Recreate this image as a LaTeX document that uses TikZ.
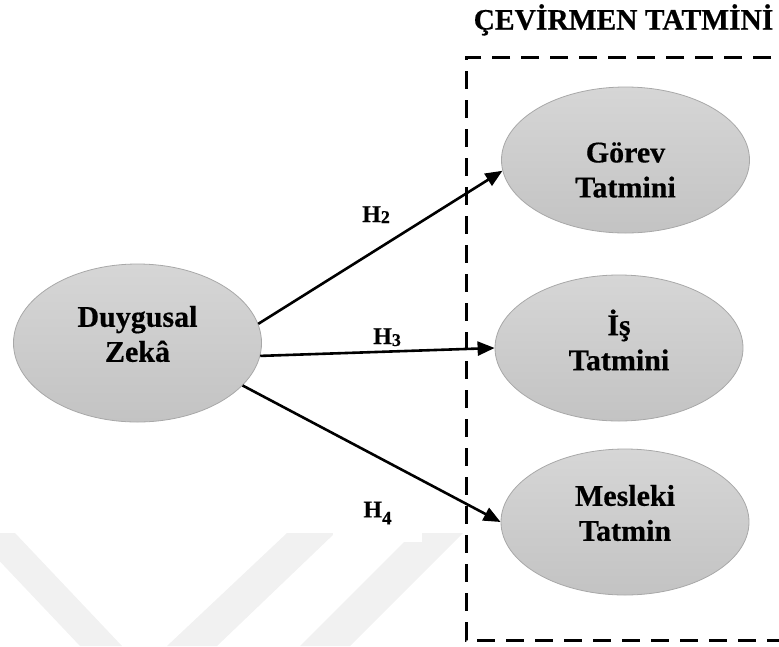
\documentclass[tikz,border=0pt]{standalone}
\usepackage{fontspec}
\setmainfont{Liberation Serif}[BoldFeatures={FakeBold=0.5}]
\usetikzlibrary{shapes.geometric,arrows.meta}

\definecolor{ovaltop}{HTML}{D6D6D6}
\definecolor{ovalbot}{HTML}{C3C3C3}
\definecolor{ovalline}{HTML}{A8A8A8}
\definecolor{markgray}{HTML}{F1F1F1}

\begin{document}
\begin{tikzpicture}[x=1pt,y=-1pt,
  concept/.style={ellipse, draw=ovalline, line width=0.8pt,
    top color=ovaltop, bottom color=ovalbot,
    minimum width=248pt, minimum height=146pt, inner sep=0pt},
  ctext/.style={align=center, inner sep=0pt,
    font=\fontsize{30}{35}\selectfont\bfseries},
  link/.style={-{Triangle[length=17pt,width=14pt]}, line width=2.6pt},
  hyp/.style={font=\fontsize{24}{24}\selectfont\bfseries, inner sep=0pt},
  frame/.style={line width=3pt, dash pattern=on 18pt off 11pt},
  heading/.style={font=\fontsize{29.5}{29.5}\selectfont\bfseries, inner sep=0pt},
  band/.style={fill=markgray, draw=none},
]
\useasboundingbox (0,0) rectangle (779,646);

% faint background mark along the bottom edge
\fill[band] (-27,533) -- (15,533) -- (122,646) -- (80,646) -- cycle;
\fill[band] (287,533) -- (335,533) -- (217,646) -- (167,646) -- cycle;
\fill[band] (413,533) -- (463,533) -- (350,646) -- (300,646) -- cycle;

% group frame and its heading
\draw[frame] (800,57) -- (466,57) -- (466,640) -- (800,640);
\node[heading, anchor=base] (title) at (623.5,29.5) {ÇEVİRMEN TATMİNİ};

% constructs
\node[concept, minimum height=158pt] (dz) at (137.5,343) {};
\node[concept] (gorev) at (625.5,160) {};
\node[concept] (is) at (619,348) {};
\node[concept] (meslek) at (625,522) {};

\node[ctext, yshift=9pt] (dztext) at (dz) {Duygusal\\Zekâ};
\node[ctext, yshift=-10pt] (gorevtext) at (gorev) {Görev\\Tatmini};
\node[ctext, yshift=8pt] (istext) at (is) {İş\\Tatmini};
\node[ctext, yshift=9pt] (mesleketext) at (meslek) {Mesleki\\Tatmin};

% hypothesis labels
\node[hyp, anchor=base west] (h2) at (362,222)
  {H\raisebox{-1pt}{\fontsize{18}{18}\selectfont 2}};
\node[hyp, anchor=base west] (h3) at (373,344)
  {H\raisebox{-2pt}{\fontsize{18}{18}\selectfont 3}};
\node[hyp, fill=white, minimum width=89pt, minimum height=58pt] (h4) at (377.5,513)
  {H\raisebox{-7pt}{\fontsize{19}{19}\selectfont 4}};

% hypothesised paths
\draw[link] (dz.9) -- (gorev.185);
\draw[link] (dz.-6) -- (is.west);
\draw[link] (dz.-22) -- (meslek.west);
\end{tikzpicture}
\end{document}
